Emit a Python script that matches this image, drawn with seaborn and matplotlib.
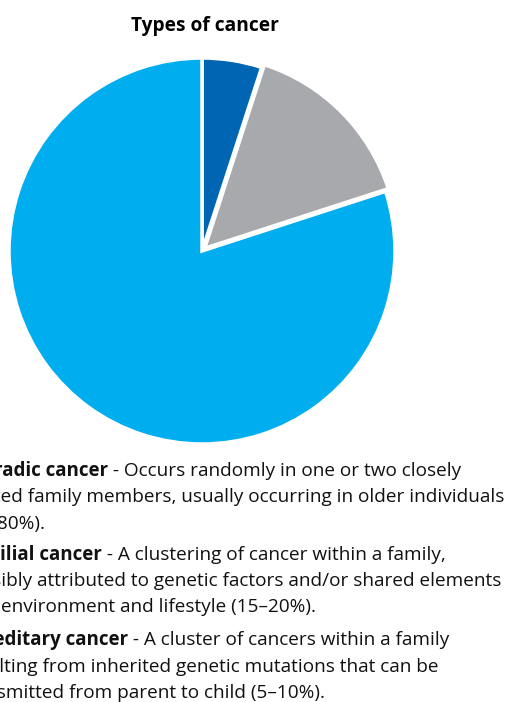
import matplotlib
matplotlib.use("Agg")
import matplotlib.pyplot as plt
import seaborn as sns

# --------------------------------------------------
# Data

cancer_types = ["Hereditary", "Familial", "Sporadic"]
shares = [5, 15, 80]
colors = ["#0066B3", "#A7A9AC", "#00AEEF"]

title = "Types of cancer"

names = ["Sporadic cancer", "Familial cancer", "Hereditary cancer"]
first_lines = [
    " - Occurs randomly in one or two closely",
    " - A clustering of cancer within a family,",
    " - A cluster of cancers within a family",
]
other_lines = [
    ["related family members, usually occurring in older individuals",
     "(70–80%)."],
    ["possibly attributed to genetic factors and/or shared elements",
     "of the environment and lifestyle (15–20%)."],
    ["resulting from inherited genetic mutations that can be",
     "transmitted from parent to child (5–10%)."],
]

# --------------------------------------------------
# Figure

sns.set_theme(style="white")
plt.rcParams["font.family"] = ["Open Sans", "DejaVu Sans"]

W, H = 505, 702
fig = plt.figure(figsize=(W / 100, H / 100), dpi=100)
renderer = fig.canvas.get_renderer()

# pie axes, centre (202, 251) px, radius 193 px
cx, cy, r = 202, 251, 193
lim = 1.03
half = r * lim
ax = fig.add_axes([(cx - half) / W, (H - cy - half) / H, 2 * half / W, 2 * half / H])

ax.pie(
    shares,
    colors=colors,
    startangle=90,
    counterclock=False,
    explode=[0.0, 0.02, 0.0],
    wedgeprops=dict(edgecolor="white", linewidth=2.5),
)
ax.set_xlim(-lim, lim)
ax.set_ylim(-lim, lim)
ax.axis("off")

fig.text(205 / W, 1 - 31 / H, title, ha="center", va="baseline",
         fontsize=13.8, fontweight="bold", color="black")

# --------------------------------------------------
# Descriptions

fs = 13.7
x0 = -40
baselines = [[476, 502.5, 529], [560, 586.5, 612], [645, 671.5, 698]]

for i in range(3):
    y = 1 - baselines[i][0] / H
    t = fig.text(x0 / W, y, names[i], fontsize=fs - 0.2, fontweight="bold",
                 va="baseline", color="#111111")
    bb = t.get_window_extent(renderer)
    fig.text(bb.x1 / W, y, first_lines[i], fontsize=fs,
             va="baseline", color="#111111")
    for j, line in enumerate(other_lines[i]):
        yl = 1 - baselines[i][j + 1] / H
        if line.startswith("of the "):
            # the reference shows "environment" starting right at the edge
            p = fig.text(0, yl, "of the ", fontsize=fs, va="baseline",
                         color="#111111")
            pw = p.get_window_extent(renderer).width
            p.set_x((1 - pw) / W)
            fig.text(1 / W, yl, line[len("of the "):], fontsize=fs,
                     va="baseline", color="#111111")
        else:
            fig.text(x0 / W, yl, line, fontsize=fs, va="baseline",
                     color="#111111")

fig.savefig("out.png", dpi=100)
